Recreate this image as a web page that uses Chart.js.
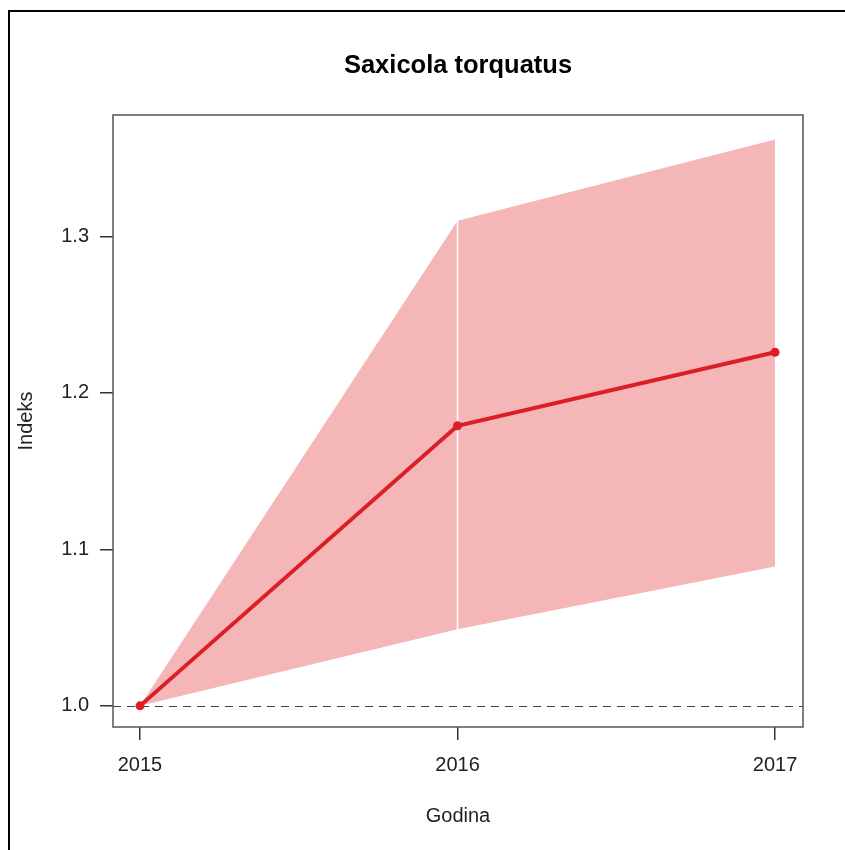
<!DOCTYPE html>
<html>
<head>
<meta charset="utf-8">
<script src="https://cdn.jsdelivr.net/npm/chart.js@4"></script>
<style>
  html, body { margin: 0; padding: 0; background: #fff; }
  #wrap { width: 845px; height: 850px; }
</style>
</head>
<body>
<div id="wrap"><canvas id="indeks"></canvas></div>
<script>
const years = [2015, 2016, 2017];
const indexMean = [1.0, 1.179, 1.226];
const indexLower = [1.0, 1.049, 1.089];
const indexUpper = [1.0, 1.310, 1.362];
const yTicks = [1.0, 1.1, 1.2, 1.3];
const refLevel = 1.0;

const FONT = "'Liberation Sans', Arial, sans-serif";
const pts = (vals) => years.map((x, i) => ({ x: x, y: vals[i] }));

// frame, plot box, reference line and the title, R style
const frame = {
  id: 'frame',
  beforeDraw(chart) {
    const ctx = chart.ctx;
    ctx.save();
    ctx.fillStyle = '#fff';
    ctx.fillRect(0, 0, chart.width, chart.height);
    ctx.strokeStyle = '#000';
    ctx.lineWidth = 2;
    ctx.beginPath();
    ctx.moveTo(9, chart.height);
    ctx.lineTo(9, 11);
    ctx.lineTo(chart.width, 11);
    ctx.stroke();
    ctx.restore();
  },
  beforeDatasetsDraw(chart) {
    const { ctx, chartArea: a, scales } = chart;
    const y = Math.round(scales.y.getPixelForValue(refLevel)) + 0.5;
    ctx.save();
    ctx.strokeStyle = '#444';
    ctx.lineWidth = 1;
    ctx.setLineDash([8, 6]);
    ctx.beginPath();
    ctx.moveTo(a.left, y);
    ctx.lineTo(a.right, y);
    ctx.stroke();
    ctx.restore();
  },
  afterDraw(chart) {
    const { ctx, chartArea: a } = chart;
    ctx.save();
    ctx.strokeStyle = '#555';
    ctx.lineWidth = 1.5;
    ctx.strokeRect(a.left, a.top, a.right - a.left, a.bottom - a.top);
    ctx.fillStyle = '#000';
    ctx.font = 'bold 25.5px ' + FONT;
    ctx.textAlign = 'center';
    ctx.textBaseline = 'middle';
    ctx.fillText('Saxicola torquatus', (a.left + a.right) / 2, 66);
    ctx.restore();
  }
};

new Chart('indeks', {
  type: 'line',
  data: {
    datasets: [
      {
        label: 'donja granica',
        data: pts(indexLower),
        borderWidth: 0,
        pointRadius: 0,
        fill: false,
        order: 4
      },
      {
        label: 'gornja granica',
        data: pts(indexUpper),
        borderWidth: 0,
        pointRadius: 0,
        backgroundColor: '#f5b6b8',
        fill: '-1',
        order: 3
      },
      {
        label: 'rub',
        data: [{ x: years[1], y: indexLower[1] }, { x: years[1], y: indexUpper[1] }],
        borderColor: '#ffffff',
        borderWidth: 1.5,
        pointRadius: 0,
        fill: false,
        order: 2
      },
      {
        label: 'Indeks',
        data: pts(indexMean),
        borderColor: '#dc1f26',
        backgroundColor: '#dc1f26',
        borderWidth: 4,
        pointStyle: 'circle',
        pointRadius: 4.5,
        pointBorderWidth: 0,
        fill: false,
        order: 1
      }
    ]
  },
  options: {
    responsive: true,
    maintainAspectRatio: false,
    animation: false,
    layout: { padding: { left: 0, right: 42, top: 115, bottom: 0 } },
    plugins: {
      legend: { display: false },
      tooltip: { enabled: false }
    },
    scales: {
      x: {
        type: 'linear',
        min: 2014.915,
        max: 2017.088,
        afterBuildTicks: (s) => { s.ticks = years.map(v => ({ value: v })); },
        afterFit: (s) => { s.height = 850 - 727; },
        grid: { drawOnChartArea: false, drawTicks: true, tickLength: 13, color: '#333', lineWidth: 1.5 },
        border: { display: false },
        ticks: {
          padding: 13,
          color: '#222',
          font: { family: FONT, size: 20 },
          maxRotation: 0,
          callback: (v) => String(v)
        },
        title: {
          display: true,
          text: 'Godina',
          color: '#222',
          font: { family: FONT, size: 20 },
          padding: { top: 0, bottom: 22 }
        }
      },
      y: {
        type: 'linear',
        min: 0.9865,
        max: 1.3776,
        afterBuildTicks: (s) => { s.ticks = yTicks.map(v => ({ value: v })); },
        afterFit: (s) => { s.width = 113; },
        grid: { drawOnChartArea: false, drawTicks: true, tickLength: 13, color: '#333', lineWidth: 1.5 },
        border: { display: false },
        ticks: {
          padding: 11,
          color: '#222',
          font: { family: FONT, size: 20 },
          callback: (v) => v.toFixed(1)
        },
        title: {
          display: true,
          text: 'Indeks',
          color: '#222',
          font: { family: FONT, size: 20 },
          padding: { top: 14, bottom: 0 }
        }
      }
    }
  },
  plugins: [frame]
});
</script>
</body>
</html>
